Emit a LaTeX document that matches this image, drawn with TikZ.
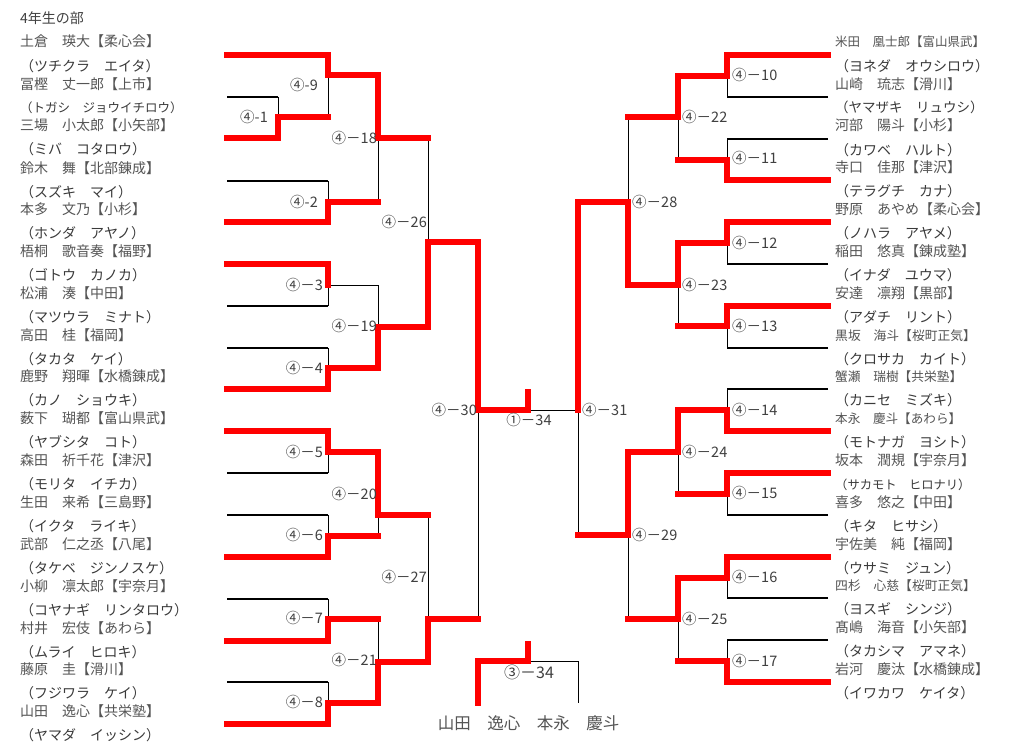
\documentclass[tikz,border=0pt]{standalone}
\usepackage{fontspec}
\setmainfont{Noto Sans CJK JP}
\definecolor{nmc}{HTML}{555555}
\definecolor{knc}{HTML}{3A3A3A}
\definecolor{lbc}{HTML}{404040}
\definecolor{rd}{HTML}{FF0000}
\newcommand\fs[1]{\fontsize{#1}{#1}\selectfont}
\begin{document}
\begin{tikzpicture}[x=1pt,y=-1pt,
  blk/.style={draw=black,line width=1pt},
  pl/.style={draw=black,line width=1.6pt},
  win/.style={draw=rd,line width=5.3pt,line cap=rect,line join=miter},
  nm/.style={anchor=base west,inner sep=0pt,text=nmc,font=\fs{14}},
  kn/.style={anchor=base west,inner sep=0pt,text=knc,font=\fs{14}},
  lbl/.style={inner sep=0pt,text=lbc,font=\fs{14.5}},
  lbll/.style={lbl,anchor=base east},
  lblr/.style={lbl,anchor=base west},
]
\fill[white] (0,0) rectangle (1018,752);
\useasboundingbox (0,0) rectangle (1018,752);

% ---------- title ----------
\node[nm,text=lbc] (title) at (20,24) {4年生の部};

% ---------- left names ----------
\node[nm] (l1) at (20,47) {土倉　瑛大【柔心会】};
\node[kn] (l1k) at (20,71) {（ツチクラ　エイタ）};
\node[nm] (l2) at (20,89) {冨樫　丈一郎【上市】};
\node[kn,font=\fs{12.5}] (l2k) at (20,113) {（トガシ　ジョウイチロウ）};
\node[nm] (l3) at (20,130) {三場　小太郎【小矢部】};
\node[kn] (l3k) at (20,154) {（ミバ　コタロウ）};
\node[nm] (l4) at (20,173) {鈴木　舞【北部錬成】};
\node[kn] (l4k) at (20,197) {（スズキ　マイ）};
\node[nm] (l5) at (20,214) {本多　文乃【小杉】};
\node[kn] (l5k) at (20,238) {（ホンダ　アヤノ）};
\node[nm] (l6) at (20,256) {梧桐　歌音奏【福野】};
\node[kn] (l6k) at (20,280) {（ゴトウ　カノカ）};
\node[nm] (l7) at (20,298) {松浦　湊【中田】};
\node[kn] (l7k) at (20,322) {（マツウラ　ミナト）};
\node[nm] (l8) at (20,340) {高田　桂【福岡】};
\node[kn] (l8k) at (20,364) {（タカタ　ケイ）};
\node[nm] (l9) at (20,381) {鹿野　翔暉【水橋錬成】};
\node[kn] (l9k) at (20,405) {（カノ　ショウキ）};
\node[nm] (l10) at (20,423) {薮下　瑚都【富山県武】};
\node[kn] (l10k) at (20,447) {（ヤブシタ　コト）};
\node[nm] (l11) at (20,465) {森田　祈千花【津沢】};
\node[kn] (l11k) at (20,489) {（モリタ　イチカ）};
\node[nm] (l12) at (20,507) {生田　来希【三島野】};
\node[kn] (l12k) at (20,531) {（イクタ　ライキ）};
\node[nm] (l13) at (20,549) {武部　仁之丞【八尾】};
\node[kn] (l13k) at (20,573) {（タケベ　ジンノスケ）};
\node[nm] (l14) at (20,591) {小柳　凛太郎【宇奈月】};
\node[kn] (l14k) at (20,615) {（コヤナギ　リンタロウ）};
\node[nm] (l15) at (20,633) {村井　宏伎【あわら】};
\node[kn] (l15k) at (20,657) {（ムライ　ヒロキ）};
\node[nm] (l16) at (20,674) {藤原　圭【滑川】};
\node[kn] (l16k) at (20,698) {（フジワラ　ケイ）};
\node[nm] (l17) at (20,716) {山田　逸心【共栄塾】};
\node[kn] (l17k) at (20,740) {（ヤマダ　イッシン）};

% ---------- right names ----------
\node[nm,font=\fs{12.5}] (r1) at (835,47) {米田　凰士郎【富山県武】};
\node[kn] (r1k) at (835,71) {（ヨネダ　オウシロウ）};
\node[nm] (r2) at (835,89) {山崎　琉志【滑川】};
\node[kn,font=\fs{13.5}] (r2k) at (835,113) {（ヤマザキ　リュウシ）};
\node[nm] (r3) at (835,131) {河部　陽斗【小杉】};
\node[kn] (r3k) at (835,155) {（カワベ　ハルト）};
\node[nm] (r4) at (835,172) {寺口　佳那【津沢】};
\node[kn] (r4k) at (835,196) {（テラグチ　カナ）};
\node[nm] (r5) at (835,214) {野原　あやめ【柔心会】};
\node[kn] (r5k) at (835,238) {（ノハラ　アヤメ）};
\node[nm] (r6) at (835,256) {稲田　悠真【錬成塾】};
\node[kn] (r6k) at (835,280) {（イナダ　ユウマ）};
\node[nm] (r7) at (835,298) {安達　凛翔【黒部】};
\node[kn] (r7k) at (835,322) {（アダチ　リント）};
\node[nm,font=\fs{12.8}] (r8) at (835,340) {黒坂　海斗【桜町正気】};
\node[kn] (r8k) at (835,364) {（クロサカ　カイト）};
\node[nm,font=\fs{12.7}] (r9) at (835,381) {蟹瀬　瑞樹【共栄塾】};
\node[kn] (r9k) at (835,405) {（カニセ　ミズキ）};
\node[nm,font=\fs{12.6}] (r10) at (835,423) {本永　慶斗【あわら】};
\node[kn] (r10k) at (835,447) {（モトナガ　ヨシト）};
\node[nm] (r11) at (835,465) {坂本　潤規【宇奈月】};
\node[kn,font=\fs{12.3}] (r11k) at (835,489) {（サカモト　ヒロナリ）};
\node[nm] (r12) at (835,507) {喜多　悠之【中田】};
\node[kn] (r12k) at (835,531) {（キタ　ヒサシ）};
\node[nm] (r13) at (835,549) {宇佐美　純【福岡】};
\node[kn] (r13k) at (835,573) {（ウサミ　ジュン）};
\node[nm,font=\fs{12.8}] (r14) at (835,590) {四杉　心慈【桜町正気】};
\node[kn] (r14k) at (835,614) {（ヨスギ　シンジ）};
\node[nm] (r15) at (835,632) {髙嶋　海音【小矢部】};
\node[kn] (r15k) at (835,656) {（タカシマ　アマネ）};
\node[nm] (r16) at (835,674) {岩河　慶汰【水橋錬成】};
\node[kn] (r16k) at (835,698) {（イワカワ　ケイタ）};

% ---------- left bracket: black ----------
\draw[pl] (227,97) -- (278,97);
\draw[blk] (278,97) -- (278,117);
\draw[blk] (328,75) -- (328,117);
\draw[pl] (227,181) -- (328,181);
\draw[blk] (328,181) -- (328,202);
\draw[blk] (378,138) -- (378,202);
\draw[pl] (227,306) -- (328,306);
\draw[blk] (328,306) -- (328,285) -- (378,285);
\draw[pl] (227,348) -- (328,348);
\draw[blk] (328,348) -- (328,368);
\draw[blk] (378,285) -- (378,327);
\draw[blk] (428,138) -- (428,242);
\draw[pl] (227,473) -- (328,473);
\draw[blk] (328,473) -- (328,452);
\draw[pl] (227,515) -- (328,515);
\draw[blk] (328,515) -- (328,536);
\draw[blk] (378,515) -- (378,536);
\draw[pl] (227,599) -- (328,599);
\draw[blk] (328,599) -- (328,619);
\draw[pl] (227,682) -- (328,682);
\draw[blk] (328,682) -- (328,703);
\draw[blk] (378,619) -- (378,662);
\draw[blk] (428,515) -- (428,619);
\draw[blk] (478,410) -- (478,619);

% ---------- right bracket: black ----------
\draw[pl] (828,97) -- (727,97);
\draw[blk] (727,97) -- (727,76);
\draw[pl] (828,139) -- (727,139);
\draw[blk] (727,139) -- (727,160);
\draw[blk] (678,117) -- (678,160);
\draw[pl] (828,264) -- (727,264);
\draw[blk] (727,264) -- (727,243);
\draw[pl] (828,348) -- (727,348);
\draw[blk] (727,348) -- (727,326);
\draw[blk] (678,285) -- (678,326);
\draw[blk] (628,117) -- (628,202);
\draw[pl] (828,389) -- (727,389);
\draw[blk] (727,389) -- (727,410);
\draw[pl] (828,515) -- (727,515);
\draw[blk] (727,515) -- (727,494);
\draw[blk] (678,452) -- (678,494);
\draw[pl] (828,598) -- (727,598);
\draw[blk] (727,598) -- (727,578);
\draw[pl] (828,640) -- (727,640);
\draw[blk] (727,640) -- (727,661);
\draw[blk] (678,619) -- (678,661);
\draw[blk] (628,535) -- (628,619);
\draw[blk] (578,410) -- (578,535);
\draw[blk] (578,410) -- (528,410);

% ---------- third place: black ----------
\draw[blk] (528,661) -- (578,661) -- (578,703);

% ---------- winners: red ----------
\draw[win] (227,55) -- (328,55) -- (328,75) -- (378,75) -- (378,138) -- (428,138);
\draw[win] (227,138) -- (278,138) -- (278,117) -- (328,117);
\draw[win] (227,222) -- (328,222) -- (328,202) -- (378,202);
\draw[win] (227,264) -- (328,264) -- (328,285);
\draw[win] (227,389) -- (328,389) -- (328,368) -- (378,368) -- (378,327) -- (428,327) -- (428,242) -- (478,242) -- (478,410) -- (528,410) -- (528,392);
\draw[win] (227,431) -- (328,431) -- (328,452) -- (378,452) -- (378,515) -- (428,515);
\draw[win] (227,557) -- (328,557) -- (328,536) -- (378,536);
\draw[win] (227,641) -- (328,641) -- (328,619) -- (378,619);
\draw[win] (227,724) -- (328,724) -- (328,703) -- (378,703) -- (378,662) -- (428,662) -- (428,619) -- (478,619);

\draw[win] (828,55) -- (727,55) -- (727,76) -- (678,76) -- (678,117) -- (628,117);
\draw[win] (828,180) -- (727,180) -- (727,160) -- (678,160);
\draw[win] (828,222) -- (727,222) -- (727,243) -- (678,243) -- (678,285) -- (628,285) -- (628,202) -- (578,202) -- (578,410);
\draw[win] (828,306) -- (727,306) -- (727,326) -- (678,326);
\draw[win] (828,431) -- (727,431) -- (727,410) -- (678,410) -- (678,452) -- (628,452) -- (628,535) -- (578,535);
\draw[win] (828,473) -- (727,473) -- (727,494) -- (678,494);
\draw[win] (828,557) -- (727,557) -- (727,578) -- (678,578) -- (678,619) -- (628,619);
\draw[win] (828,682) -- (727,682) -- (727,661) -- (678,661);

\draw[win] (478,703) -- (478,661) -- (528,661) -- (528,644);

% ---------- match labels: left ----------
\node[lbll] (m9) at (318,91) {④-9};
\node[lbll] (m1) at (268,122) {④-1};
\node[lbll] (m2) at (318,207) {④-2};
\node[lbll] (m3) at (323,290) {④－3};
\node[lbll] (m4) at (323,373) {④－4};
\node[lbll] (m5) at (323,457) {④－5};
\node[lbll] (m6) at (323,540) {④－6};
\node[lbll] (m7) at (323,623) {④－7};
\node[lbll] (m8) at (323,707) {④－8};
\node[lbll] (m18) at (377,143) {④－18};
\node[lbll] (m19) at (377,331) {④－19};
\node[lbll] (m20) at (377,499) {④－20};
\node[lbll] (m21) at (377,665) {④－21};
\node[lbll] (m26) at (427,227) {④－26};
\node[lbll] (m27) at (427,582) {④－27};
\node[lbll] (m30) at (477,415) {④－30};

% ---------- match labels: right ----------
\node[lblr] (m10) at (732,81) {④－10};
\node[lblr] (m11) at (732,163) {④－11};
\node[lblr] (m12) at (732,248) {④－12};
\node[lblr] (m13) at (732,331) {④－13};
\node[lblr] (m14) at (732,415) {④－14};
\node[lblr] (m15) at (732,498) {④－15};
\node[lblr] (m16) at (732,582) {④－16};
\node[lblr] (m17) at (732,666) {④－17};
\node[lblr] (m22) at (682,122) {④－22};
\node[lblr] (m23) at (682,290) {④－23};
\node[lblr] (m24) at (682,457) {④－24};
\node[lblr] (m25) at (682,624) {④－25};
\node[lblr] (m28) at (632,207) {④－28};
\node[lblr] (m29) at (632,540) {④－29};
\node[lblr] (m31) at (582,415) {④－31};

% ---------- final / third place ----------
\node[lbl,anchor=base] (m34) at (529,425) {①－34};
\node[lbl,anchor=base,font=\fs{16}] (m34b) at (529,678) {③－34};
\node[nm,anchor=base,font=\fs{16.5}] (p3l) at (479,729) {山田　逸心};
\node[nm,anchor=base,font=\fs{16.5}] (p3r) at (578,729) {本永　慶斗};
\end{tikzpicture}
\end{document}
